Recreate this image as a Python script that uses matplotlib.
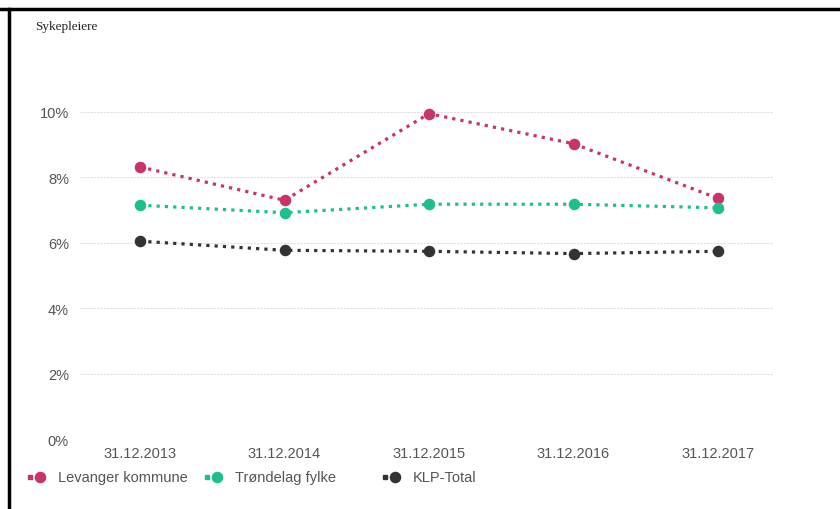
import numpy as np
import matplotlib.pyplot as plt
from matplotlib.lines import Line2D

dates = ['31.12.2013', '31.12.2014', '31.12.2015', '31.12.2016', '31.12.2017']
levanger = [8.32, 7.30, 9.95, 9.03, 7.36]
trondelag = [7.15, 6.92, 7.18, 7.18, 7.07]
klp_total = [6.05, 5.77, 5.74, 5.67, 5.74]
series_names = ['Levanger kommune', 'Trøndelag fylke', 'KLP-Total']
colors = ['#c8336a', '#1dbf8e', '#333333']
yticks = [0, 2, 4, 6, 8, 10]

W, H = 840, 510
fig = plt.figure(figsize=(W / 100, H / 100), dpi=100)
# axes placed by pixel box: x 80..773, y 113..440
ax = fig.add_axes([80 / W, 1 - 440 / H, (773 - 80) / W, (440 - 113) / H])

x = np.arange(len(dates))
for vals, c in zip([levanger, trondelag, klp_total], colors):
    ax.plot(x, vals, color=c, linestyle=(0, (1, 1.6)), linewidth=2.3,
            marker='o', markersize=7.3, clip_on=False, zorder=3)

ax.set_xlim(-60 / 144.5, 4 + 55 / 144.5)
ax.set_ylim(0, 10)
ax.set_yticks(yticks)
ax.set_yticklabels([f'{v}%' for v in yticks])
ax.set_xticks(x)
ax.set_xticklabels(dates)
ax.grid(axis='y', color='#e0e0e0', linestyle=(0, (2, 1)), linewidth=0.8)
ax.set_axisbelow(True)
for s in ax.spines.values():
    s.set_visible(False)
ax.tick_params(length=0, labelsize=10.5, labelcolor='#555555')
ax.tick_params(axis='y', pad=8)
ax.tick_params(axis='x', pad=5)
for lbl in ax.get_xticklabels() + ax.get_yticklabels():
    lbl.set_family('Liberation Sans')

fig.text(35 / W, 1 - 27 / H, 'Sykepleiere', family='Liberation Serif',
         fontsize=9.5, color='#222222', va='center', ha='left')

# legend drawn by hand to keep the uneven spacing
leg_x = [30, 207, 385]
leg_y = 1 - 478 / H
for lx, name, c in zip(leg_x, series_names, colors):
    fig.add_artist(Line2D([lx / W], [leg_y], color=c, marker='s',
                          markersize=2.3, linestyle='none',
                          transform=fig.transFigure))
    fig.add_artist(Line2D([(lx + 10) / W], [leg_y], color=c, marker='o',
                          markersize=7.3, transform=fig.transFigure))
    fig.text((lx + 28) / W, leg_y, name, family='Liberation Sans',
             fontsize=10.5, color='#555555', va='center', ha='left')

# black frame on top and left
fig.add_artist(Line2D([0, 1], [1 - 10 / H, 1 - 10 / H], color='black',
                      linewidth=2.5, transform=fig.transFigure))
fig.add_artist(Line2D([9 / W, 9 / W], [0, 1 - 10 / H], color='black',
                      linewidth=2.5, transform=fig.transFigure))

fig.savefig('out.png', dpi=100)
